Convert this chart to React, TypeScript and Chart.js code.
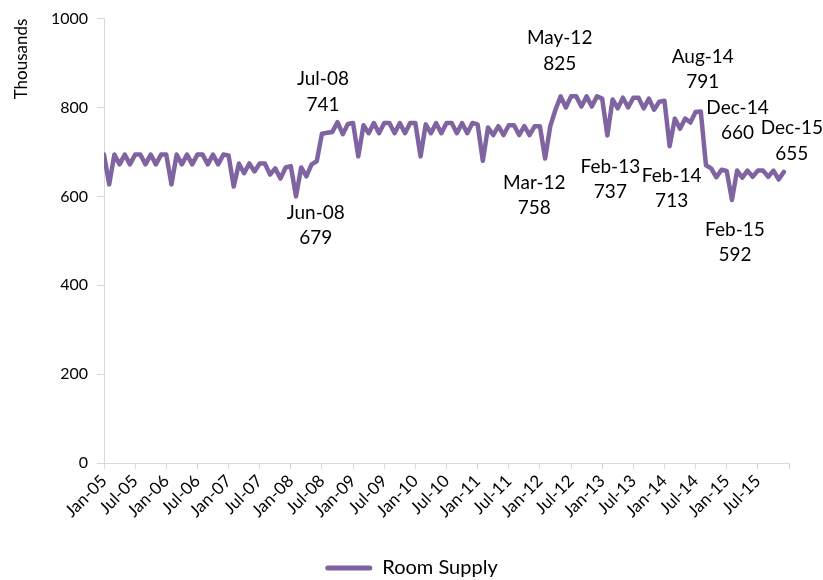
import React, { useEffect, useRef } from 'react';
import { Chart, registerables } from 'chart.js';

Chart.register(...registerables);

const years = ['05', '06', '07', '08', '09', '10', '11', '12', '13', '14', '15'];
const monthNames = ['Jan', 'Feb', 'Mar', 'Apr', 'May', 'Jun', 'Jul', 'Aug', 'Sep', 'Oct', 'Nov', 'Dec'];
const months: string[] = years.flatMap((y) => monthNames.map((m) => `${m}-${y}`));

// Room supply (thousands), Jan-05 .. Dec-15
const supply2005 = [694, 627, 694, 672, 694, 672, 694, 694, 672, 694, 672, 694];
const supply2006 = [694, 627, 694, 672, 694, 672, 694, 694, 672, 694, 672, 694];
const supply2007 = [692, 622, 674, 652, 674, 656, 674, 674, 649, 663, 640, 665];
const supply2008 = [668, 600, 665, 645, 672, 679, 741, 743, 745, 767, 740, 763];
const supply2009 = [765, 690, 760, 742, 765, 742, 765, 765, 742, 765, 742, 765];
const supply2010 = [765, 690, 762, 742, 765, 742, 765, 765, 742, 765, 742, 765];
const supply2011 = [762, 680, 755, 738, 758, 738, 760, 760, 738, 758, 738, 758];
const supply2012 = [758, 685, 758, 795, 825, 800, 825, 825, 802, 825, 802, 825];
const supply2013 = [820, 737, 818, 798, 822, 800, 822, 822, 798, 820, 795, 813];
const supply2014 = [815, 713, 775, 752, 775, 766, 790, 791, 670, 663, 643, 660];
const supply2015 = [657, 592, 658, 642, 658, 644, 658, 658, 644, 658, 638, 655];
const supply: number[] = [
  ...supply2005, ...supply2006, ...supply2007, ...supply2008, ...supply2009, ...supply2010,
  ...supply2011, ...supply2012, ...supply2013, ...supply2014, ...supply2015,
];

const seriesName = 'Room Supply';
const yTitle = 'Thousands';
const annotatedMonths = ['Jun-08', 'Jul-08', 'Mar-12', 'May-12', 'Feb-13', 'Feb-14', 'Aug-14', 'Dec-14', 'Feb-15', 'Dec-15'];

// label placement relative to the point: [dx, dy line1, dy line2]
const labelPlacement: Record<string, [number, number, number]> = {
  'Jun-08': [-1, 52, 77],
  'Jul-08': [1, -55, -29],
  'Mar-12': [-16, 57, 82],
  'May-12': [-1, -58, -32],
  'Feb-13': [3, 31, 56],
  'Feb-14': [2, 30, 55],
  'Aug-14': [2, -55, -30],
  'Dec-14': [16, -62, -37],
  'Feb-15': [3, 30, 55],
  'Dec-15': [8, -44, -18],
};

const FONT = 'Lato';
const LINE_COLOR = '#8064A2';
const AXIS_COLOR = '#d9d9d9';

const dataLabelPlugin = {
  id: 'monthValueLabels',
  afterDatasetsDraw(chart: any) {
    const meta = chart.getDatasetMeta(0);
    const ctx = chart.ctx;
    ctx.save();
    ctx.font = `19px ${FONT}`;
    ctx.fillStyle = '#000';
    ctx.textAlign = 'center';
    ctx.textBaseline = 'middle';
    annotatedMonths.forEach((m) => {
      const i = months.indexOf(m);
      const pt = meta.data[i];
      if (!pt) return;
      const [dx, dy1, dy2] = labelPlacement[m];
      ctx.fillText(m, pt.x + dx, pt.y + dy1);
      ctx.fillText(String(supply[i]), pt.x + dx, pt.y + dy2);
    });
    ctx.restore();
  },
};

export default function App() {
  const canvasRef = useRef<HTMLCanvasElement | null>(null);

  useEffect(() => {
    if (!canvasRef.current) return;
    const chart = new Chart(canvasRef.current, {
      type: 'line',
      data: {
        datasets: [
          {
            label: seriesName,
            data: supply.map((v, i) => ({ x: i, y: v })),
            borderColor: LINE_COLOR,
            backgroundColor: LINE_COLOR,
            borderWidth: 4.5,
            pointRadius: 0,
            tension: 0,
            borderJoinStyle: 'round',
            borderCapStyle: 'round',
            yAxisID: 'y',
          },
        ],
      },
      options: {
        animation: false,
        responsive: false,
        layout: { padding: { left: 0, top: 14, right: 0, bottom: -8 } },
        plugins: {
          tooltip: { enabled: false },
          legend: {
            position: 'bottom',
            labels: {
              boxWidth: 47,
              boxHeight: 5,
              padding: 6,
              color: '#000',
              font: { family: FONT, size: 20 },
              generateLabels: (c: any) =>
                Chart.defaults.plugins.legend.labels.generateLabels(c).map((l: any) => ({
                  ...l,
                  lineWidth: 0,
                  fillStyle: LINE_COLOR,
                  borderRadius: 2.5,
                })),
              useBorderRadius: true,
            },
          },
        },
        scales: {
          x: {
            type: 'linear',
            min: 0,
            max: months.length,
            afterFit: (s: any) => {
              s.height = 89;
            },
            ticks: {
              stepSize: 6,
              autoSkip: false,
              maxRotation: 45,
              minRotation: 45,
              padding: 2,
              color: '#000',
              font: { family: FONT, size: 17 },
              callback: (v: any) => months[v] ?? '',
            },
            grid: { drawOnChartArea: false, drawTicks: true, tickLength: 6, color: AXIS_COLOR },
            border: { color: AXIS_COLOR },
          },
          y: {
            min: 0,
            max: 1000,
            afterFit: (s: any) => {
              s.width = 104;
            },
            ticks: {
              stepSize: 200,
              padding: 9,
              color: '#000',
              font: { family: FONT, size: 16 },
              callback: (v: any) => String(v),
            },
            title: {
              display: true,
              text: yTitle,
              align: 'end',
              color: '#000',
              font: { family: FONT, size: 17 },
              padding: { top: 11, bottom: 0 },
            },
            grid: { drawOnChartArea: false, drawTicks: true, tickLength: 7, color: AXIS_COLOR },
            border: { color: AXIS_COLOR },
          },
          yRightSpace: {
            position: 'right',
            min: 0,
            max: 1000,
            afterFit: (s: any) => {
              s.width = 34;
            },
            ticks: { display: false },
            grid: { display: false, drawTicks: false },
            border: { display: false },
          },
        },
      },
      plugins: [dataLabelPlugin],
    } as any);
    return () => chart.destroy();
  }, []);

  return (
    <div style={{ position: 'fixed', left: 0, top: 0, width: 823, height: 580, background: '#fff' }}>
      <canvas ref={canvasRef} width={823} height={580} />
    </div>
  );
}
